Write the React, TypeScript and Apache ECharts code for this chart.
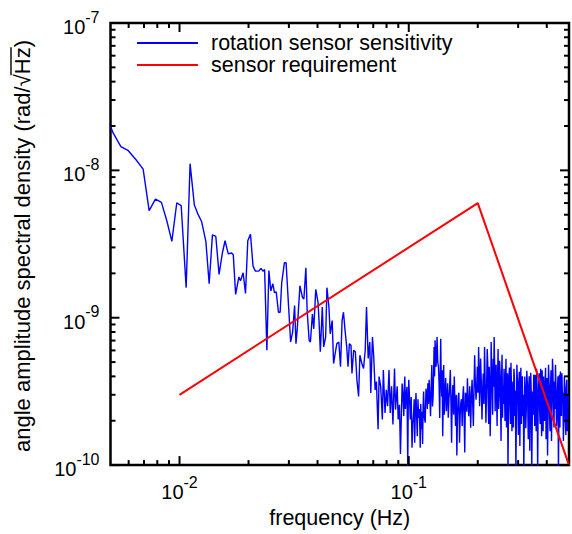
import React, { useEffect, useRef } from "react";
import * as echarts from "echarts";

// rotation sensor sensitivity: [frequency (Hz), value in units of 1e-10 rad/sqrt(Hz)]
const sensitivity: [number, number][] = [
  [0.005, 200], [0.00512, 181], [0.00555, 145], [0.00598, 136], [0.00646, 118], [0.00694, 102],
  [0.00737, 53.3], [0.00785, 63.8], [0.00834, 60.6], [0.00882, 45], [0.00926, 33], [0.00973, 60.3],
  [0.01017, 57.6], [0.01069, 16], [0.01112, 111], [0.01161, 58.1], [0.01199, 51.1], [0.01248, 45],
  [0.01303, 33], [0.01347, 17], [0.01392, 36.5], [0.0144, 35.6], [0.01488, 19.7], [0.01538, 27.5],
  [0.0158, 33.3], [0.01632, 27.1], [0.01688, 27.5], [0.01716, 26.8], [0.01757, 14.4], [0.018155, 18.9],
  [0.018463, 17.8], [0.018947, 20.2], [0.019405, 14.6], [0.019854, 33.3], [0.020393, 36.9], [0.020927, 22.4],
  [0.021432, 20.7], [0.022146, 20.7], [0.022658, 21.6], [0.023113, 20.7], [0.023507, 21.2], [0.02405, 6.02],
  [0.024533, 20.9], [0.025026, 15.2], [0.025529, 17.0], [0.025963, 14.8], [0.026406, 15.0], [0.027016, 10.9],
  [0.027476, 10.9], [0.027917, 17.3], [0.028676, 23.6], [0.029166, 23.6], [0.02984, 12.7], [0.03053, 6.85],
  [0.031143, 7.99], [0.031768, 12.1], [0.032213, 6.67], [0.032632, 8.41], [0.033518, 16.5], [0.034396, 13.7],
  [0.034877, 13.4], [0.035577, 21.8], [0.036039, 11.2], [0.036763, 7.03], [0.037241, 6.85], [0.037989, 10.6],
  [0.038521, 8.41], [0.039294, 15.6], [0.040204, 12.7], [0.040606, 9.58], [0.041133, 5.87], [0.041959, 11.8],
  [0.042547, 6.34], [0.043402, 7.4], [0.043966, 16.0], [0.044849, 11.8], [0.045431, 7.78], [0.046344, 9.58],
  [0.046994, 4.89], [0.047747, 5.71], [0.048561, 6.67], [0.049536, 6.85], [0.050381, 4.65], [0.051189, 9.58],
  [0.051906, 10.9], [0.052739, 8.2], [0.053638, 6.34], [0.054325, 4.65], [0.055085, 6.67], [0.055969, 6.51],
  [0.056529, 4.19], [0.057491, 6.02], [0.058471, 5.87], [0.059409, 3.79], [0.060421, 2.92], [0.061207, 5.57],
  [0.062436, 4.89], [0.063499, 4.53], [0.064582, 6.02], [0.065421, 11.8], [0.066535, 5.29], [0.067604, 6.85],
  [0.068279, 3.08], [0.069441, 7.4], [0.070345, 5.43], [0.071332, 3.24], [0.072259, 3.69], [0.073491, 1.75],
  [0.074224, 3.99], [0.075415, 3.43], [0.0767, 2.04], [0.077467, 4.42], [0.078787, 2.26], [0.07981, 3.24],
  [0.080848, 2.51], [0.08198, 4.42], [0.083045, 2.26], [0.084124, 3.43], [0.0853, 1.89], [0.08667, 4.53],
  [0.087535, 2.38], [0.089026, 3.43], [0.089916, 2.04], [0.091083, 2.57], [0.091992, 1.19], [0.09356, 3.58],
  [0.095155, 2.15], [0.096104, 3.99], [0.097353, 2.92], [0.099011, 0.98], [0.1, 3.79], [0.1016, 2.04],
  [0.10333, 1.31], [0.1051, 2.32], [0.10615, 1.42], [0.10753, 3.08], [0.10893, 1.57], [0.11045, 2.09],
  [0.11222, 1.31], [0.11334, 1.75], [0.11493, 1.39], [0.11608, 3.16], [0.11794, 1.94], [0.11995, 2.92],
  [0.12115, 3.59], [0.12272, 3.79], [0.12444, 2.15], [0.12606, 4.78], [0.1277, 2.92], [0.12897, 6.34],
  [0.13026, 7.03], [0.13156, 4.65], [0.13287, 7.4], [0.13473, 4.65], [0.13649, 2.09], [0.13785, 7.2],
  [0.13923, 2.92], [0.14062, 1.57], [0.14202, 4.78], [0.14387, 3.08], [0.14588, 2.32], [0.14778, 3.59],
  [0.1497, 2.78], [0.1518, 4.42], [0.15377, 1.42], [0.15577, 3.5], [0.15795, 3.99], [0.16001, 1.84],
  [0.16209, 1.16], [0.16436, 2.92], [0.1665, 1.42], [0.16866, 2.64], [0.17102, 1.84], [0.17325, 3.43],
  [0.1755, 1.22], [0.17796, 2.92], [0.18027, 3.88], [0.18262, 2.15], [0.18444, 3.43], [0.18628, 1.79],
  [0.18889, 3.79], [0.19135, 1.84], [0.19383, 5.57], [0.19655, 2.78], [0.19911, 4.65], [0.20169, 6.34],
  [0.20371, 2.51], [0.20574, 5.29], [0.20862, 2.04], [0.21134, 4.19], [0.21408, 6.34], [0.21708, 1.94],
  [0.21987, 6.14], [0.22207, 2.71], [0.22429, 4.65], [0.22653, 1.57], [0.22879, 6.85], [0.23108, 3.16],
  [0.23339, 5.26], [0.23572, 7.4], [0.23807, 2.32], [0.24045, 4.8], [0.24285, 1.84], [0.24528, 6.14],
  [0.24773, 3.02], [0.2502, 4.31], [0.2527, 1.46], [0.25522, 5.6], [0.25777, 3.43], [0.26034, 4.51],
  [0.26294, 1.99], [0.26557, 5.26], [0.26822, 2.92], [0.2709, 0.9], [0.27361, 3.99], [0.27634, 2.51],
  [0.2791, 4.95], [0.28189, 1.7], [0.2847, 3.69], [0.28754, 4.51], [0.29041, 2.15], [0.29331, 0.9],
  [0.29624, 4.8], [0.2992, 2.71], [0.30219, 3.69], [0.30521, 1.35], [0.30826, 4.58], [0.31134, 3.02],
  [0.31445, 2.15], [0.31759, 0.9], [0.32076, 3.99], [0.32396, 1.78], [0.3272, 4.37], [0.33047, 2.51],
  [0.33377, 3.43], [0.3371, 1.25], [0.34047, 4.24], [0.34387, 0.9], [0.3473, 3.16], [0.35077, 4.11],
  [0.35427, 1.84], [0.35781, 2.92], [0.36138, 4.51], [0.36499, 0.9], [0.36864, 3.52], [0.37232, 2.32],
  [0.37604, 4.51], [0.37979, 1.57], [0.38358, 3.16], [0.38741, 3.99], [0.39128, 1.99], [0.39519, 4.58],
  [0.39914, 2.71], [0.40312, 1.16], [0.40715, 4.8], [0.41121, 2.15], [0.41532, 3.43], [0.41947, 1.46],
  [0.42366, 5.26], [0.42789, 2.51], [0.43216, 3.69], [0.43648, 4.8], [0.44084, 1.84], [0.44524, 3.16],
  [0.44968, 0.9], [0.45417, 4.11], [0.45871, 4.31], [0.46329, 2.15], [0.46792, 2.92], [0.47259, 1.46],
  [0.47731, 3.99], [0.48208, 1.99], [0.48689, 3.31], [0.49175, 1.7], [0.49666, 3.02],
];

// additional readings in the dense high-frequency band: [frequency (Hz), value in units of 1e-10]
const sensitivityDense: [number, number][] = [
  [0.0944, 2.9], [0.0956, 3.3], [0.0967, 2.4], [0.0982, 3.4], [0.0995, 2.6], [0.1008, 2.8],
  [0.1025, 2.9], [0.1042, 1.9], [0.1056, 2.8], [0.1068, 2.3], [0.1082, 2.2], [0.1097, 2.8],
  [0.1113, 2.4], [0.1128, 2.6], [0.1141, 2.3], [0.1155, 2.5], [0.117, 2.1], [0.1189, 3.3],
  [0.1205, 2.4], [0.1219, 2.6], [0.1236, 2.9], [0.1252, 3.3], [0.1269, 2.5], [0.1283, 4.1],
  [0.1296, 4.0], [0.1309, 5.4], [0.1322, 5.6], [0.1338, 5.0], [0.1356, 3.6], [0.1371, 4.1],
  [0.1385, 3.8], [0.1399, 4.4], [0.1413, 2.6], [0.1429, 2.2], [0.1449, 3.9], [0.1468, 2.9],
  [0.1487, 2.1], [0.1507, 3.3], [0.1528, 2.6], [0.1547, 2.9], [0.1569, 2.2], [0.159, 2.6],
  [0.1611, 3.0], [0.1632, 2.2], [0.1654, 3.1], [0.1676, 2.2], [0.1698, 2.8], [0.1721, 2.9],
  [0.1744, 2.1], [0.1767, 3.1], [0.1791, 2.3], [0.1814, 2.8], [0.1835, 2.6], [0.1854, 2.5],
  [0.1876, 3.0], [0.1901, 2.6], [0.1926, 3.3], [0.1952, 3.6], [0.1978, 3.3], [0.2004, 3.1],
  [0.2027, 4.4], [0.2047, 3.2], [0.2072, 3.7], [0.21, 3.1], [0.2127, 2.6], [0.2156, 3.4],
  [0.2185, 3.3], [0.221, 5.0], [0.2232, 1.9], [0.2254, 3.6], [0.2277, 2.6], [0.2299, 4.6],
  [0.2322, 2.2], [0.2346, 3.4], [0.2369, 4.9], [0.2393, 3.6], [0.2416, 2.9], [0.2441, 4.1],
  [0.2465, 2.4], [0.249, 5.1], [0.2514, 2.7], [0.254, 3.9], [0.2565, 2.1], [0.2591, 2.6],
  [0.2616, 3.3], [0.2643, 4.0], [0.2669, 1.8], [0.2696, 4.2], [0.2722, 2.4], [0.275, 4.6],
  [0.2777, 1.9], [0.2805, 3.4], [0.2833, 2.6], [0.2861, 1.8], [0.289, 3.9], [0.2919, 3.2],
  [0.2948, 2.3], [0.2977, 3.8], [0.3007, 1.6], [0.3037, 4.3], [0.3067, 2.7], [0.3098, 1.9],
  [0.3129, 4.0], [0.316, 3.0], [0.3192, 2.2], [0.3224, 3.2], [0.3256, 2.4], [0.3288, 3.7],
  [0.3321, 1.5], [0.3354, 4.0], [0.3388, 2.5], [0.3422, 3.1], [0.3456, 1.9], [0.349, 2.2],
  [0.3525, 3.4], [0.356, 4.1], [0.3596, 1.7], [0.3632, 3.0], [0.3668, 2.6], [0.3705, 4.2],
  [0.3742, 1.9], [0.3779, 3.2], [0.3817, 4.4], [0.3855, 1.7], [0.3893, 2.9], [0.3932, 3.5],
  [0.3971, 1.5], [0.4011, 3.9], [0.4051, 2.3], [0.4092, 3.6], [0.4133, 1.7], [0.4174, 4.4],
  [0.4216, 2.8], [0.4258, 4.1], [0.43, 1.8], [0.4343, 2.4], [0.4386, 3.5], [0.443, 2.2],
  [0.4475, 4.0], [0.4519, 2.5], [0.4564, 1.8], [0.461, 3.3], [0.4656, 4.2], [0.4702, 3.1],
  [0.4749, 2.2], [0.4797, 3.4], [0.4845, 1.6], [0.4893, 3.8], [0.4942, 2.4],
];
const sensitivityUnit = 1e-10;

// sensor requirement
const requirementFreq = [0.01, 0.2, 0.5];
const requirementVal = [3e-10, 6e-9, 1e-10];

const seriesNames = ["rotation sensor sensitivity", "sensor requirement"];
const xTitle = "frequency (Hz)";
const yTitle = "angle amplitude spectral density (rad/√Hz)";

const xRange = [0.005, 0.5];
const yRange = [1e-10, 1e-7];
const xMajorTicks = [0.01, 0.1];
const xMinorTicks = [0.006, 0.007, 0.008, 0.009, 0.02, 0.03, 0.04, 0.05, 0.06, 0.07, 0.08, 0.09, 0.2, 0.3, 0.4];
const yMajorTicks = [1e-10, 1e-9, 1e-8, 1e-7];
const yMinorTicks = [
  2e-10, 3e-10, 4e-10, 5e-10, 6e-10, 7e-10, 8e-10, 9e-10,
  2e-9, 3e-9, 4e-9, 5e-9, 6e-9, 7e-9, 8e-9, 9e-9,
  2e-8, 3e-8, 4e-8, 5e-8, 6e-8, 7e-8, 8e-8, 9e-8,
];

const FONT = "Liberation Sans, Arial, Helvetica, sans-serif";
const TITLE_SIZE = 22;

const powLabel = (v: number) => {
  const e = Math.log10(v);
  const r = Math.round(e);
  if (Math.abs(e - r) > 1e-6) return "";
  return `{b|10}{s|${r}}`;
};

const labelRich = {
  b: { fontSize: 20, lineHeight: 28, fontFamily: FONT, color: "#000", verticalAlign: "bottom" },
  s: { fontSize: 16, lineHeight: 16, fontFamily: FONT, color: "#000", verticalAlign: "top" },
};

export default function App() {
  const ref = useRef<HTMLDivElement>(null);
  useEffect(() => {
    if (!ref.current) return;
    const chart = echarts.init(ref.current, undefined, { renderer: "svg" });

    const blueData = [...sensitivity, ...sensitivityDense]
      .sort((a, b) => a[0] - b[0])
      .map(([f, v]) => [f, v * sensitivityUnit]);

    // y title geometry (rotated text), overline over "Hz"
    const titleCx = 22;
    const titleCy = 246;
    const ctx = document.createElement("canvas").getContext("2d");
    let W = 400, wParen = 7, wHz = 27;
    if (ctx) {
      ctx.font = `${TITLE_SIZE}px "Liberation Sans"`;
      W = ctx.measureText(yTitle).width;
      wParen = ctx.measureText(")").width;
      wHz = ctx.measureText("Hz").width;
    }
    const olTop = titleCy - W / 2 + wParen;
    const olBottom = olTop + wHz + 1;
    const olX = titleCx - 11;

    const tickX = (params: any, api: any) => {
      const cs = params.coordSys;
      const p = api.coord([api.value(0), 1e-9]);
      const len = api.value(2) === 1 ? 9 : 5;
      const yb = cs.y + cs.height;
      const yt = cs.y;
      return {
        type: "group",
        children: [
          { type: "line", shape: { x1: p[0], y1: yb, x2: p[0], y2: yb - len }, style: { stroke: "#000", lineWidth: 2 } },
          { type: "line", shape: { x1: p[0], y1: yt, x2: p[0], y2: yt + len }, style: { stroke: "#000", lineWidth: 2 } },
        ],
      };
    };
    const tickY = (params: any, api: any) => {
      const cs = params.coordSys;
      const p = api.coord([0.01, api.value(1)]);
      const len = api.value(2) === 1 ? 9 : 5;
      const xl = cs.x;
      const xr = cs.x + cs.width;
      return {
        type: "group",
        children: [
          { type: "line", shape: { x1: xl, y1: p[1], x2: xl + len, y2: p[1] }, style: { stroke: "#000", lineWidth: 2 } },
          { type: "line", shape: { x1: xr, y1: p[1], x2: xr - len, y2: p[1] }, style: { stroke: "#000", lineWidth: 2 } },
        ],
      };
    };

    chart.setOption({
      animation: false,
      backgroundColor: "#fff",
      grid: {
        left: 110.5, top: 23, width: 463.2, height: 446.3,
        show: true, borderColor: "#000", borderWidth: 2.5, backgroundColor: "transparent",
      },
      legend: {
        data: seriesNames,
        orient: "vertical",
        left: 136,
        top: 32,
        padding: 0,
        itemWidth: 61,
        itemHeight: 1,
        itemGap: 0,
        textStyle: { fontSize: 21.5, lineHeight: 21, fontFamily: FONT, color: "#000", padding: [0, 0, 0, 8] },
      },
      xAxis: {
        type: "log",
        logBase: 10,
        min: xRange[0],
        max: xRange[1],
        axisLine: { show: false },
        axisTick: { show: false },
        splitLine: { show: false },
        axisLabel: { formatter: powLabel, rich: labelRich, margin: 9 },
        name: xTitle,
        nameLocation: "middle",
        nameGap: 41,
        nameTextStyle: { fontSize: 21.5, fontFamily: FONT, color: "#000" },
      },
      yAxis: {
        type: "log",
        logBase: 10,
        min: yRange[0],
        max: yRange[1],
        axisLine: { show: false },
        axisTick: { show: false },
        splitLine: { show: false },
        axisLabel: { formatter: powLabel, rich: labelRich, margin: 11 },
      },
      graphic: [
        {
          type: "text",
          x: titleCx,
          y: titleCy,
          rotation: Math.PI / 2,
          style: {
            text: yTitle,
            fontSize: TITLE_SIZE,
            fontFamily: FONT,
            fill: "#000",
            textAlign: "center",
            textVerticalAlign: "middle",
          },
        },
        { type: "line", shape: { x1: olX, y1: olTop, x2: olX, y2: olBottom }, style: { stroke: "#000", lineWidth: 1.4 } },
      ],
      series: [
        {
          name: seriesNames[0],
          type: "line",
          symbol: "none",
          data: blueData,
          lineStyle: { color: "#0000ff", width: 1.4 },
          itemStyle: { color: "#0000ff" },
          clip: true,
          z: 3,
        },
        {
          name: seriesNames[1],
          type: "line",
          symbol: "none",
          data: requirementFreq.map((f, i) => [f, requirementVal[i]]),
          lineStyle: { color: "#ff0000", width: 2 },
          itemStyle: { color: "#ff0000" },
          clip: true,
          z: 4,
        },
        {
          type: "custom",
          silent: true,
          renderItem: tickX,
          data: [...xMajorTicks.map((v) => [v, 1e-9, 1]), ...xMinorTicks.map((v) => [v, 1e-9, 0])],
          z: 5,
        },
        {
          type: "custom",
          silent: true,
          renderItem: tickY,
          data: [...yMajorTicks.map((v) => [0.01, v, 1]), ...yMinorTicks.map((v) => [0.01, v, 0])],
          z: 5,
        },
      ],
    });
    return () => chart.dispose();
  }, []);
  return <div ref={ref} style={{ position: "absolute", left: 0, top: 0, width: 572, height: 534 }} />;
}
